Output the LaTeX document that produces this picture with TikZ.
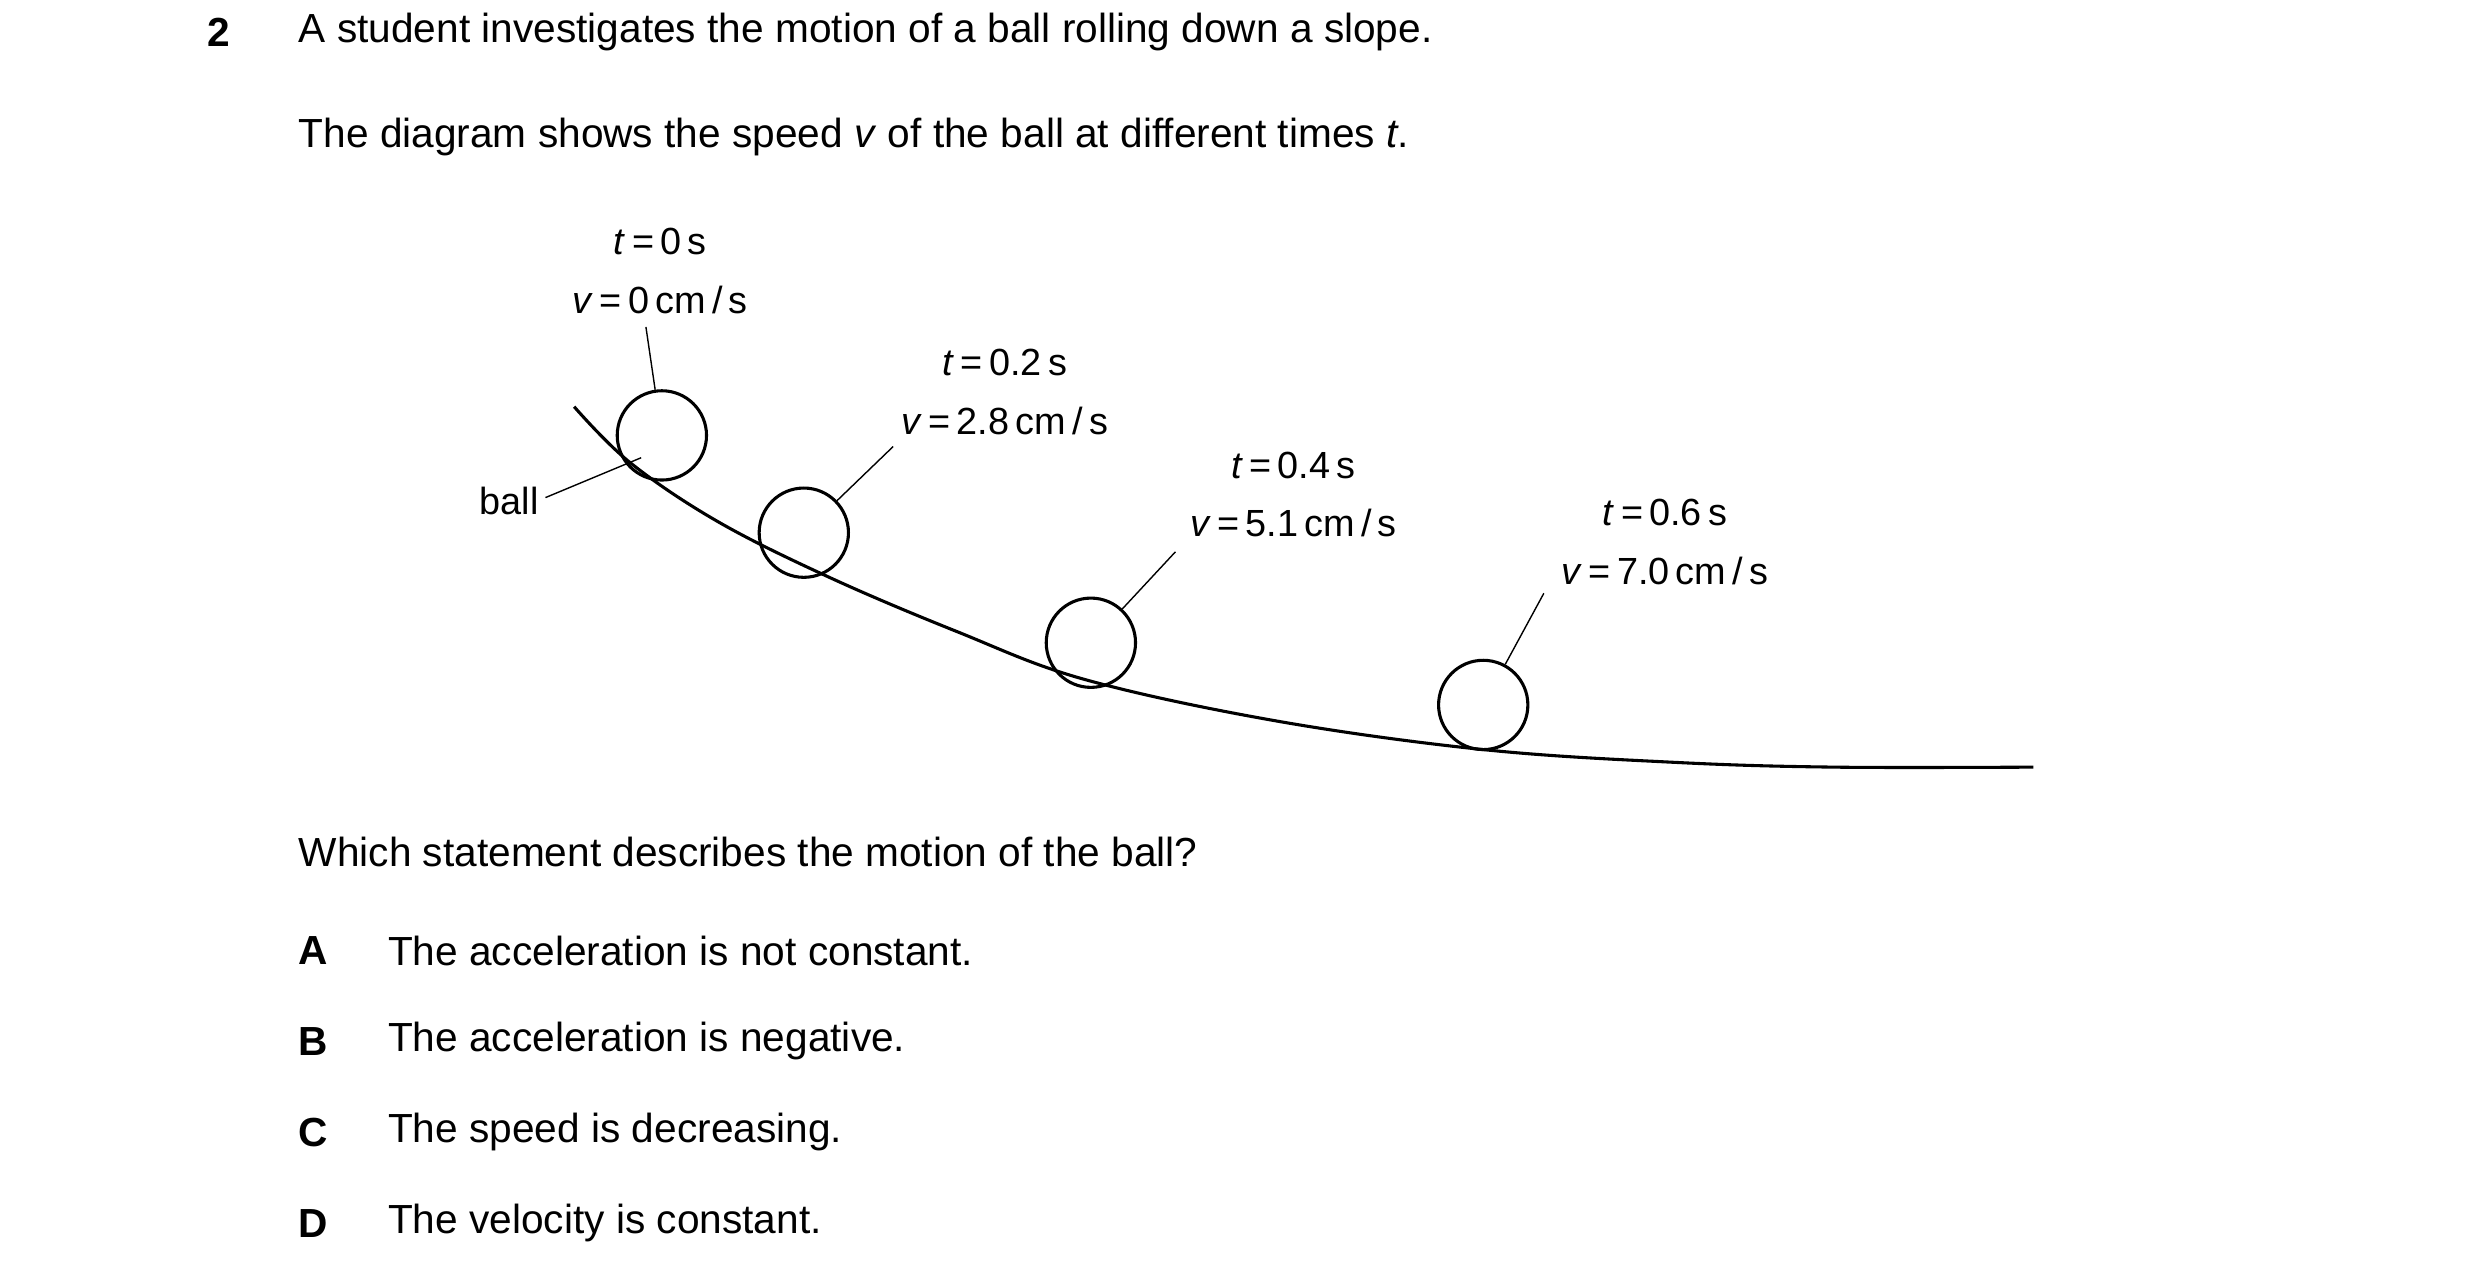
\documentclass[tikz,border=0pt]{standalone}
\usepackage{fontspec}
\setmainfont{Liberation Sans}
\usetikzlibrary{positioning}
\tikzset{
  txt/.style={anchor=west,inner sep=0pt,font=\fontsize{14.5}{17}\selectfont},
  lab/.style={inner sep=0pt,align=center,font=\fontsize{13.5}{21}\selectfont},
  ball/.style={circle,draw,line width=1.1pt,minimum size=1.12cm,inner sep=0pt},
  lead/.style={line width=0.5pt}
}
\newcommand{\tv}[2]{\textit{t}\,=\,#1\,s\\\textit{v}\,=\,#2\,cm\,/\,s}
\begin{document}
\begin{tikzpicture}[x=0.02cm,y=-0.02cm]
  \useasboundingbox (0,0) rectangle (1555,801);
  % question text
  \node[txt,font=\fontsize{14.5}{17}\selectfont\bfseries] (num) at (130,20) {2};
  \node[txt] (q1) at (187,20) {A student investigates the motion of a ball rolling down a slope.};
  \node[txt] (q2) at (187,86) {The diagram shows the speed \textit{v} of the ball at different times \textit{t}.};
  \node[txt] (q3) at (187,534) {Which statement describes the motion of the ball?};
  \foreach \y/\l/\s in {596/A/The acceleration is not constant.,
                        653/B/The acceleration is negative.,
                        710/C/The speed is decreasing.,
                        767/D/The velocity is constant.} {
    \node[txt,font=\fontsize{14.5}{17}\selectfont\bfseries] (opt\l) at (187,\y) {\l};
    \node[txt] (text\l) at (243,\y) {\s};
  }
  % slope
  \draw[line width=1.1pt] plot[smooth,tension=0.6] coordinates {(360,255) (395,290) (450,327)
    (520,362) (600,396) (680,426) (800,452) (930,470) (1050,478) (1150,481) (1275,481)};
  % balls
  \node[ball] (b1) at (415,273) {};
  \node[ball] (b2) at (504,334) {};
  \node[ball] (b3) at (684,403) {};
  \node[ball] (b4) at (930,442) {};
  % labels
  \node[lab] (l1) at (414,170) {\tv{0}{0}};
  \node[lab] (l2) at (630,246) {\tv{0.2}{2.8}};
  \node[lab] (l3) at (811,310) {\tv{0.4}{5.1}};
  \node[lab] (l4) at (1044,340) {\tv{0.6}{7.0}};
  \node[lab,anchor=east] (lball) at (338,314) {ball};
  \coordinate (c1) at (405,205);
  \coordinate (c2) at (560,280);
  \coordinate (c3) at (737,346);
  \coordinate (c4) at (968,372);
  \coordinate (cb) at (402,287);
  \draw[lead] (c1) -- (b1);
  \draw[lead] (c2) -- (b2);
  \draw[lead] (c3) -- (b3);
  \draw[lead] (c4) -- (b4);
  \draw[lead] (lball.east) ++(4,-2) -- (cb);
\end{tikzpicture}
\end{document}
